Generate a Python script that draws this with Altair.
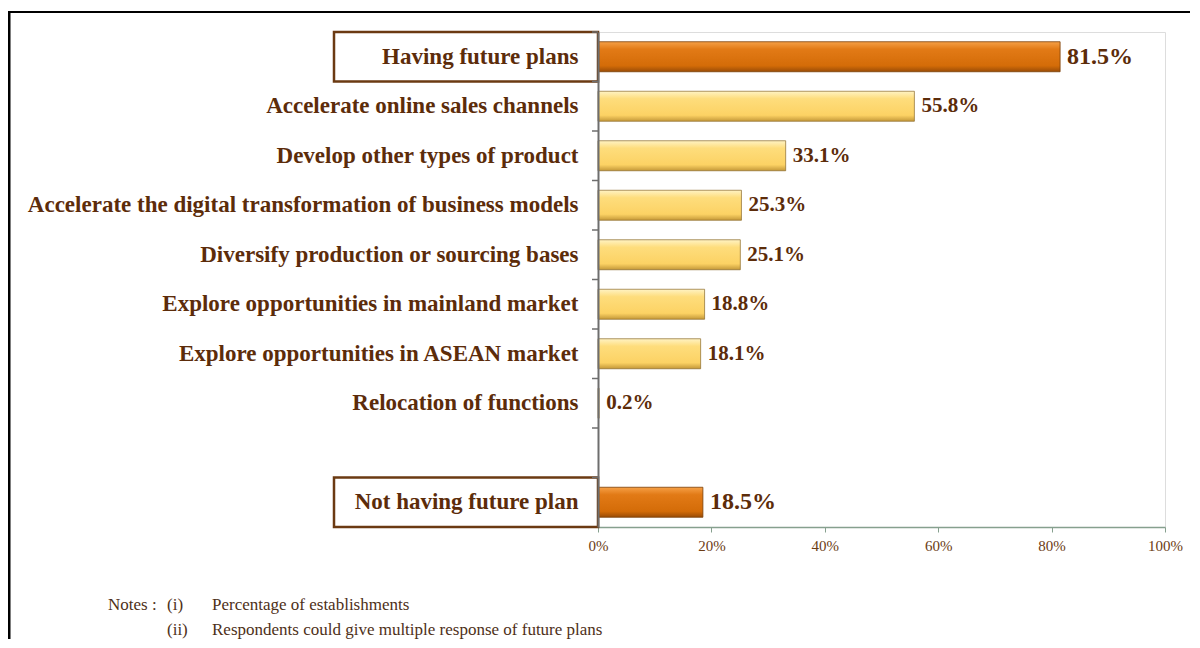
import altair as alt
import pandas as pd

categories = [
    "Having future plans",
    "Accelerate online sales channels",
    "Develop other types of product",
    "Accelerate the digital transformation of business models",
    "Diversify production or sourcing bases",
    "Explore opportunities in mainland market",
    "Explore opportunities in ASEAN market",
    "Relocation of functions",
    " ",
    "Not having future plan",
]
main_cats = ["Having future plans", "Not having future plan"]
main_vals = [81.5, 18.5]
sub_cats = [
    "Accelerate online sales channels",
    "Develop other types of product",
    "Accelerate the digital transformation of business models",
    "Diversify production or sourcing bases",
    "Explore opportunities in mainland market",
    "Explore opportunities in ASEAN market",
    "Relocation of functions",
]
sub_vals = [55.8, 33.1, 25.3, 25.1, 18.8, 18.1, 0.2]
x_ticks = [0, 20, 40, 60, 80, 100]
note_lines = ["Percentage of establishments",
              "Respondents could give  multiple response of future plans"]
note_marks = ["(i)", "(ii)"]

main_df = pd.DataFrame({"cat": main_cats, "val": main_vals})
main_df["lab"] = [f"{v:.1f}%" for v in main_vals]
sub_df = pd.DataFrame({"cat": sub_cats, "val": sub_vals})
sub_df["lab"] = [f"{v:.1f}%" for v in sub_vals]
tick_df = pd.DataFrame({"cat": categories})

BROWN = "#5c2c0a"
SERIF = "Liberation Serif"

yscale = alt.Scale(domain=categories, paddingInner=0, paddingOuter=0)
xscale = alt.Scale(domain=[0, 100], nice=False)

y_axis = alt.Axis(
    title=None, ticks=False, tickSize=0, domain=True, domainColor="#6e6e6e",
    domainWidth=2, labelFont=SERIF, labelFontWeight="bold", labelFontSize=23,
    labelColor=BROWN, labelPadding=20, labelLimit=700, zindex=1,
)
x_axis = alt.Axis(
    title=None, values=x_ticks, labelExpr="datum.value + '%'", grid=False,
    domainColor="#86a08e", domainWidth=1.5, tickColor="#86a08e", tickSize=5,
    labelFont=SERIF, labelFontSize=15, labelColor="#6b3c14", labelPadding=6,
    labelFlush=False,
)

Y = alt.Y("cat:N", scale=yscale, axis=y_axis, sort=categories)
X = alt.X("val:Q", scale=xscale, axis=x_axis)

orange = alt.Gradient(
    gradient="linear", x1=0, x2=0, y1=0, y2=1,
    stops=[alt.GradientStop(color="#f6a046", offset=0),
           alt.GradientStop(color="#e27a16", offset=0.25),
           alt.GradientStop(color="#d46c08", offset=0.8),
           alt.GradientStop(color="#9a4c06", offset=1)],
)
yellow = alt.Gradient(
    gradient="linear", x1=0, x2=0, y1=0, y2=1,
    stops=[alt.GradientStop(color="#fff3c4", offset=0),
           alt.GradientStop(color="#fedd7c", offset=0.25),
           alt.GradientStop(color="#fcd264", offset=0.8),
           alt.GradientStop(color="#c49838", offset=1)],
)

sub_bars = alt.Chart(sub_df).mark_bar(
    color=yellow, size=30, stroke="#8a6a2a", strokeWidth=1, strokeOpacity=0.7
).encode(y=Y, x=X)
main_bars = alt.Chart(main_df).mark_bar(
    color=orange, size=30, stroke="#7a3e06", strokeWidth=1, strokeOpacity=0.8
).encode(y=Y, x=X)

boxes = alt.Chart(main_df).mark_rect(
    filled=False, stroke="#6b3a12", strokeWidth=2.5
).encode(y=Y, x=alt.value(-264), x2=alt.value(0))

ticks = alt.Chart(tick_df).mark_rule(color="#6e6e6e", strokeWidth=1.5).encode(
    y=alt.Y("cat:N", scale=yscale, sort=categories, bandPosition=0, axis=y_axis),
    x=alt.value(-6), x2=alt.value(0),
)

sub_text = alt.Chart(sub_df).mark_text(
    align="left", baseline="middle", dx=7, font=SERIF, fontWeight="bold",
    fontSize=21, color=BROWN
).encode(y=Y, x=X, text="lab:N")
main_text = alt.Chart(main_df).mark_text(
    align="left", baseline="middle", dx=7, font=SERIF, fontWeight="bold",
    fontSize=24, color=BROWN
).encode(y=Y, x=X, text="lab:N")

one = pd.DataFrame({"k": [0]})
border_top = alt.Chart(one).mark_rule(color="#000000", strokeWidth=2).encode(
    x=alt.value(-590), x2=alt.value(620), y=alt.value(-20))
border_left = alt.Chart(one).mark_rule(color="#000000", strokeWidth=3).encode(
    x=alt.value(-589), y=alt.value(-20), y2=alt.value(640))

NOTE_C = "#4e3018"
NFS = 17
def note(txt, xv, yv):
    return alt.Chart(pd.DataFrame({"t": [txt]})).mark_text(
        align="left", baseline="middle", font=SERIF, fontSize=NFS, color=NOTE_C
    ).encode(text="t:N", x=alt.value(xv), y=alt.value(yv))

notes = [
    note("Notes :", -490, 573),
    note(note_marks[0], -431, 573),
    note(note_marks[1], -431, 598),
    note(note_lines[0], -386, 573),
    note(note_lines[1], -386, 598),
]

chart = alt.layer(
    sub_bars, main_bars, boxes, ticks, sub_text, main_text,
    border_top, border_left, *notes,
).properties(
    width=567, height=495,
    autosize=alt.AutoSizeParams(type="none"),
    padding={"left": 590, "top": 24, "right": 25, "bottom": 112},
).configure_view(stroke=None).configure(background="white")

chart.save("out.html", embed_options={"renderer": "svg", "actions": False})
